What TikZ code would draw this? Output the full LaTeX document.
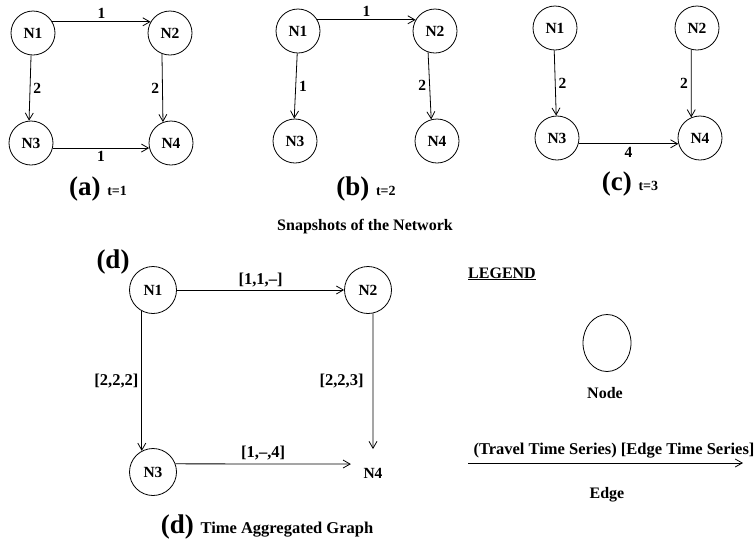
\documentclass[tikz,border=0pt]{standalone}
\usepackage{fontspec}
\setmainfont{Liberation Serif}
\usetikzlibrary{shapes.geometric,arrows.meta}

\begin{document}
\begin{tikzpicture}[x=1pt,y=-1pt,
  >={Straight Barb[length=7pt,width=8pt]},
  line width=0.8pt,
  nd/.style={draw, circle, minimum size=44pt, inner sep=0pt, font=\fontsize{15.5}{17}\selectfont\bfseries},
  bignd/.style={nd, minimum size=47pt},
  lbl/.style={font=\fontsize{15.5}{17}\selectfont\bfseries, inner sep=3pt},
  ser/.style={font=\fontsize{16.5}{19}\selectfont\bfseries, inner sep=3pt},
  captxt/.style={anchor=base, inner sep=0pt}]
\useasboundingbox (0,0) rectangle (755,542);
% (a) t=1
\node[nd] (a1) at (33,33) {N1};
\node[nd] (a2) at (170,33) {N2};
\node[nd] (a3) at (31,143) {N3};
\node[nd] (a4) at (171,143) {N4};
\path[draw,->] (a1.30) -- node[lbl,above] {1} (a2.150);
\path[draw,->] (a1.265) -- node[lbl,right] {2} (a3.95);
\path[draw,->] (a2.249) -- node[lbl,left] {2} (a4.111);
\path[draw,->] (a3.-13) -- node[lbl,below] {1} (a4.193);
\node[captxt] (capa) at (98,195) {\fontsize{27}{30}\selectfont\bfseries (a) \fontsize{14}{16}\selectfont t=1};
% (b) t=2
\node[nd] (b1) at (298,31) {N1};
\node[nd] (b2) at (435,31) {N2};
\node[nd] (b3) at (295,141) {N3};
\node[nd] (b4) at (437,141) {N4};
\path[draw,->] (b1.30) -- node[lbl,above] {1} (b2.150);
\path[draw,->] (b1.268) -- node[lbl,right] {1} (b3.92);
\path[draw,->] (b2.252) -- node[lbl,left] {2} (b4.105);
\node[captxt] (capb) at (366,195) {\fontsize{27}{30}\selectfont\bfseries (b) \fontsize{14}{16}\selectfont t=2};
% (c) t=3
\node[nd] (c1) at (555,28) {N1};
\node[nd] (c2) at (697,28) {N2};
\node[nd] (c3) at (557,138) {N3};
\node[nd] (c4) at (700,138) {N4};
\path[draw,->] (c1.268) -- node[lbl,right] {2} (c3.92);
\path[draw,->] (c2.255) -- node[lbl,left] {2} (c4.113);
\path[draw,->] (c3.-15) -- node[lbl,below] {4} (c4.195);
\node[captxt] (capc) at (630,190) {\fontsize{27}{30}\selectfont\bfseries (c) \fontsize{14}{16}\selectfont t=3};
\node[captxt, font=\fontsize{16}{18}\selectfont\bfseries] (snap) at (365,230) {Snapshots of the Network};
% (d) aggregated
\node[font=\fontsize{27}{30}\selectfont\bfseries] (dtag) at (113,262) {(d)};
\node[bignd] (d1) at (153,290) {N1};
\node[bignd] (d2) at (368,290) {N2};
\node[bignd] (d3) at (153,472) {N3};
\node[bignd, draw=none] (d4) at (373,473) {N4};
\path[draw,->] (d1) -- node[ser,above] {[1,1,--]} (d2);
\path[draw,->] (d1.242) -- node[ser,left] {[2,2,2]} (d3.118);
\path[draw,->] (d2.282) -- node[ser,left=6pt] {[2,2,3]} (d4.north);
\path[draw,->] (d3.20) -- node[ser,above] {[1,--,4]} (d4.158);
\node[captxt] (capd) at (267,533) {\fontsize{27}{30}\selectfont\bfseries (d) \fontsize{16.5}{19}\selectfont Time Aggregated Graph};
% legend
\node[captxt, font=\fontsize{16}{18}\selectfont\bfseries] (leg) at (502,278) {\underline{LEGEND}};
\node[draw, ellipse, minimum width=48pt, minimum height=57pt] (legnode) at (607,343) {};
\node[captxt, font=\fontsize{16}{18}\selectfont\bfseries] (legnodetxt) at (605,398) {Node};
\coordinate (edgeL) at (468,463);
\coordinate (edgeR) at (743,463);
\path[draw,->] (edgeL) -- (edgeR);
\node[ser] (legedgetxt) at (614,451) {(Travel Time Series) [Edge Time Series]};
\node[captxt, font=\fontsize{16}{18}\selectfont\bfseries] (legedge) at (607,498) {Edge};
\end{tikzpicture}
\end{document}
